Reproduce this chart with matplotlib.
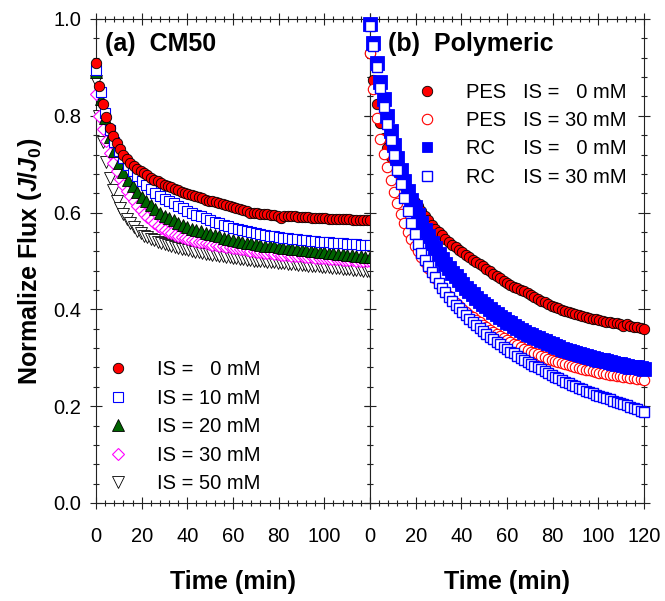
import numpy as np
import matplotlib
matplotlib.use("Agg")
import matplotlib.pyplot as plt
from matplotlib.ticker import MultipleLocator

plt.rcParams["font.family"] = ["Liberation Sans", "DejaVu Sans"]
plt.rcParams["mathtext.fontset"] = "custom"
plt.rcParams["mathtext.rm"] = "Liberation Sans:bold"
plt.rcParams["mathtext.it"] = "Liberation Sans:italic:bold"
plt.rcParams["mathtext.bf"] = "Liberation Sans:bold"

# ---------------- data: normalized flux J/J0 vs time (min) ----------------
# (a) ceramic CM50 membrane, several ionic strengths
time_cm50_0 = np.arange(81) * 1.5
flux_cm50_0 = [0.910, 0.862, 0.825, 0.797, 0.775, 0.758, 0.743, 0.731, 0.720, 0.711,
               0.703, 0.697, 0.691, 0.686, 0.681, 0.677, 0.672, 0.668, 0.665, 0.661,
               0.658, 0.655, 0.652, 0.649, 0.646, 0.643, 0.640, 0.638, 0.636, 0.634,
               0.632, 0.630, 0.627, 0.625, 0.623, 0.621, 0.619, 0.617, 0.615, 0.613,
               0.612, 0.610, 0.608, 0.606, 0.603, 0.600, 0.600, 0.599, 0.598, 0.598,
               0.597, 0.596, 0.595, 0.594, 0.588, 0.593, 0.593, 0.592, 0.592, 0.591,
               0.591, 0.590, 0.590, 0.589, 0.589, 0.588, 0.588, 0.588, 0.587, 0.587,
               0.587, 0.586, 0.586, 0.586, 0.586, 0.585, 0.585, 0.585, 0.585, 0.585,
               0.585]

time_cm50_10 = np.arange(61) * 2.0
flux_cm50_10 = [0.895, 0.850, 0.805, 0.770, 0.745, 0.727, 0.712, 0.698, 0.686, 0.675,
                0.665, 0.656, 0.648, 0.641, 0.635, 0.629, 0.624, 0.619, 0.614, 0.609,
                0.604, 0.600, 0.596, 0.592, 0.588, 0.584, 0.581, 0.578, 0.575, 0.572,
                0.569, 0.566, 0.564, 0.562, 0.560, 0.558, 0.556, 0.554, 0.552, 0.551,
                0.549, 0.548, 0.547, 0.546, 0.545, 0.544, 0.543, 0.542, 0.541, 0.540,
                0.539, 0.539, 0.538, 0.537, 0.537, 0.536, 0.536, 0.535, 0.534, 0.534,
                0.533]

time_cm50_20 = np.arange(61) * 2.0
flux_cm50_20 = [0.890, 0.835, 0.795, 0.757, 0.727, 0.703, 0.684, 0.668, 0.654, 0.642,
                0.633, 0.624, 0.615, 0.607, 0.600, 0.594, 0.589, 0.584, 0.579, 0.575,
                0.571, 0.567, 0.564, 0.561, 0.558, 0.556, 0.553, 0.551, 0.548, 0.546,
                0.544, 0.542, 0.540, 0.538, 0.537, 0.535, 0.534, 0.532, 0.531, 0.530,
                0.528, 0.527, 0.526, 0.525, 0.524, 0.523, 0.522, 0.521, 0.520, 0.519,
                0.518, 0.517, 0.516, 0.515, 0.514, 0.513, 0.512, 0.511, 0.510, 0.509,
                0.508]

time_cm50_30 = np.arange(81) * 1.5
flux_cm50_30 = [0.845, 0.800, 0.773, 0.747, 0.723, 0.703, 0.686, 0.670, 0.657, 0.645,
                0.634, 0.624, 0.614, 0.605, 0.597, 0.590, 0.584, 0.578, 0.573, 0.568,
                0.564, 0.560, 0.557, 0.554, 0.552, 0.550, 0.548, 0.546, 0.544, 0.542,
                0.540, 0.539, 0.537, 0.536, 0.534, 0.533, 0.532, 0.530, 0.529, 0.528,
                0.527, 0.526, 0.525, 0.524, 0.522, 0.521, 0.520, 0.519, 0.518, 0.517,
                0.516, 0.516, 0.515, 0.514, 0.513, 0.513, 0.512, 0.511, 0.511, 0.510,
                0.510, 0.509, 0.508, 0.508, 0.507, 0.507, 0.506, 0.506, 0.505, 0.505,
                0.504, 0.504, 0.503, 0.503, 0.502, 0.502, 0.501, 0.501, 0.500, 0.500,
                0.499]

time_cm50_50 = np.arange(81) * 1.5
flux_cm50_50 = [0.872, 0.800, 0.745, 0.705, 0.672, 0.646, 0.625, 0.609, 0.597, 0.587,
                0.578, 0.570, 0.563, 0.557, 0.552, 0.549, 0.546, 0.543, 0.540, 0.537,
                0.535, 0.533, 0.531, 0.529, 0.527, 0.525, 0.524, 0.522, 0.521, 0.519,
                0.518, 0.516, 0.515, 0.514, 0.513, 0.512, 0.511, 0.510, 0.509, 0.508,
                0.507, 0.506, 0.505, 0.504, 0.503, 0.502, 0.501, 0.501, 0.500, 0.499,
                0.498, 0.498, 0.497, 0.496, 0.495, 0.495, 0.494, 0.494, 0.493, 0.492,
                0.491, 0.491, 0.490, 0.490, 0.489, 0.489, 0.488, 0.488, 0.487, 0.486,
                0.485, 0.485, 0.484, 0.484, 0.483, 0.482, 0.481, 0.481, 0.480, 0.479,
                0.478]

# (b) polymeric membranes (PES and RC)
time_pes_0 = np.arange(81) * 1.5
flux_pes_0 = [0.930, 0.875, 0.825, 0.785, 0.755, 0.733, 0.715, 0.698, 0.683, 0.668,
              0.655, 0.643, 0.632, 0.622, 0.613, 0.604, 0.594, 0.584, 0.575, 0.567,
              0.559, 0.553, 0.546, 0.540, 0.534, 0.528, 0.523, 0.518, 0.513, 0.508,
              0.503, 0.498, 0.494, 0.489, 0.484, 0.479, 0.474, 0.469, 0.464, 0.459,
              0.454, 0.451, 0.447, 0.444, 0.441, 0.437, 0.434, 0.430, 0.426, 0.422,
              0.418, 0.415, 0.411, 0.408, 0.405, 0.402, 0.399, 0.396, 0.394, 0.392,
              0.390, 0.388, 0.386, 0.384, 0.383, 0.381, 0.380, 0.378, 0.377, 0.375,
              0.374, 0.372, 0.371, 0.370, 0.366, 0.369, 0.366, 0.364, 0.363, 0.362,
              0.360]

time_pes_30 = np.arange(81) * 1.5
flux_pes_30 = [0.930, 0.855, 0.795, 0.752, 0.722, 0.695, 0.668, 0.643, 0.620, 0.598,
               0.578, 0.560, 0.545, 0.532, 0.520, 0.508, 0.497, 0.486, 0.475, 0.465,
               0.455, 0.445, 0.436, 0.428, 0.420, 0.413, 0.406, 0.400, 0.394, 0.389,
               0.384, 0.378, 0.373, 0.368, 0.363, 0.358, 0.354, 0.349, 0.345, 0.341,
               0.337, 0.333, 0.329, 0.326, 0.322, 0.319, 0.316, 0.313, 0.310, 0.307,
               0.304, 0.301, 0.298, 0.296, 0.293, 0.291, 0.289, 0.287, 0.285, 0.283,
               0.281, 0.279, 0.277, 0.275, 0.274, 0.272, 0.271, 0.269, 0.268, 0.266,
               0.265, 0.264, 0.263, 0.262, 0.261, 0.260, 0.259, 0.258, 0.257, 0.256,
               0.254]

time_rc_0 = np.arange(81) * 1.5
flux_rc_0 = [0.990, 0.950, 0.910, 0.870, 0.835, 0.800, 0.768, 0.740, 0.713, 0.688,
             0.665, 0.645, 0.627, 0.611, 0.595, 0.579, 0.565, 0.551, 0.538, 0.526,
             0.515, 0.504, 0.494, 0.485, 0.476, 0.468, 0.460, 0.452, 0.445, 0.438,
             0.431, 0.424, 0.418, 0.412, 0.406, 0.400, 0.395, 0.390, 0.385, 0.380,
             0.375, 0.371, 0.366, 0.362, 0.358, 0.354, 0.350, 0.347, 0.343, 0.340,
             0.337, 0.334, 0.331, 0.328, 0.325, 0.322, 0.319, 0.317, 0.314, 0.312,
             0.310, 0.308, 0.306, 0.304, 0.302, 0.300, 0.298, 0.296, 0.295, 0.293,
             0.291, 0.290, 0.288, 0.287, 0.285, 0.284, 0.282, 0.281, 0.280, 0.278,
             0.277]

time_rc_30 = np.arange(81) * 1.5
flux_rc_30 = [0.985, 0.945, 0.900, 0.858, 0.818, 0.783, 0.750, 0.718, 0.688, 0.660,
              0.630, 0.603, 0.578, 0.556, 0.535, 0.516, 0.502, 0.489, 0.477, 0.466,
              0.455, 0.445, 0.435, 0.426, 0.418, 0.410, 0.402, 0.395, 0.388, 0.381,
              0.373, 0.367, 0.361, 0.355, 0.349, 0.344, 0.338, 0.333, 0.328, 0.323,
              0.318, 0.313, 0.309, 0.304, 0.300, 0.296, 0.292, 0.288, 0.284, 0.280,
              0.276, 0.272, 0.268, 0.265, 0.261, 0.258, 0.254, 0.250, 0.247, 0.244,
              0.241, 0.238, 0.235, 0.232, 0.229, 0.227, 0.224, 0.221, 0.219, 0.216,
              0.214, 0.211, 0.209, 0.206, 0.204, 0.202, 0.199, 0.197, 0.194, 0.190,
              0.187]

labels_cm50 = ["IS =   0 mM", "IS = 10 mM", "IS = 20 mM", "IS = 30 mM", "IS = 50 mM"]
labels_poly = ["PES   IS =   0 mM", "PES   IS = 30 mM",
               "RC     IS =   0 mM", "RC     IS = 30 mM"]
xticks = [0, 20, 40, 60, 80, 100, 120]

# ---------------- figure ----------------
W, H = 665, 601
fig = plt.figure(figsize=(W / 100, H / 100), dpi=100)
x0, y0, aw, ah = 96, 98, 274, 484
axL = fig.add_axes([x0 / W, y0 / H, aw / W, ah / H])
axR = fig.add_axes([(x0 + aw) / W, y0 / H, aw / W, ah / H])

RED, BLUE, GREEN, MAG = "#ff0000", "#0000ff", "#006400", "#ff00ff"

# CM50 series (drawn so the 0 mM circles end up on top)
hL = {}
hL[4] = axL.plot(time_cm50_50, flux_cm50_50, "v", ms=8, mfc="white", mec="black",
                 mew=0.6, ls="none", clip_on=False, zorder=3, label=labels_cm50[4])[0]
hL[3] = axL.plot(time_cm50_30, flux_cm50_30, "D", ms=6.5, mfc="white", mec=MAG,
                 mew=0.8, ls="none", clip_on=False, zorder=4, label=labels_cm50[3])[0]
hL[2] = axL.plot(time_cm50_20, flux_cm50_20, "^", ms=8, mfc=GREEN, mec="black",
                 mew=0.6, ls="none", clip_on=False, zorder=5, label=labels_cm50[2])[0]
hL[1] = axL.plot(time_cm50_10, flux_cm50_10, "s", ms=7, mfc="white", mec=BLUE,
                 mew=0.8, ls="none", clip_on=False, zorder=6, label=labels_cm50[1])[0]
hL[0] = axL.plot(time_cm50_0, flux_cm50_0, "o", ms=7.5, mfc=RED, mec="black",
                 mew=0.6, ls="none", clip_on=False, zorder=7, label=labels_cm50[0])[0]

# Polymeric series
hR = []
hR.append(axR.plot(time_pes_0, flux_pes_0, "o", ms=7.5, mfc=RED, mec="black",
                   mew=0.6, ls="none", clip_on=False, zorder=3, label=labels_poly[0])[0])
hR.append(axR.plot(time_pes_30, flux_pes_30, "o", ms=7.5, mfc="white", mec=RED,
                   mew=0.8, ls="none", clip_on=False, zorder=4, label=labels_poly[1])[0])
hR.append(axR.plot(time_rc_0, flux_rc_0, "s", ms=10.5, mfc=BLUE, mec=BLUE,
                   mew=0.6, ls="none", clip_on=False, zorder=5, label=labels_poly[2])[0])
hR.append(axR.plot(time_rc_30, flux_rc_30, "s", ms=7.5, mfc="white", mec=BLUE,
                   mew=1.0, ls="none", clip_on=False, zorder=6, label=labels_poly[3])[0])

for ax in (axL, axR):
    ax.set_xlim(0, 120)
    ax.set_ylim(0, 1.0)
    ax.xaxis.set_major_locator(MultipleLocator(20))
    ax.xaxis.set_minor_locator(MultipleLocator(4))
    ax.yaxis.set_major_locator(MultipleLocator(0.2))
    ax.yaxis.set_minor_locator(MultipleLocator(0.04))
    ax.tick_params(which="both", direction="inout", top=True, right=True,
                   width=0.8, colors="#222222", labelcolor="black")
    ax.tick_params(which="major", length=8, labelsize=14.5)
    ax.tick_params(which="minor", length=5)
    ax.tick_params(axis="x", pad=13.5)
    ax.tick_params(axis="y", pad=6.5)
    for s in ax.spines.values():
        s.set_linewidth(0.8)
        s.set_color("#222222")

axL.set_xticks(xticks)
axL.set_xticklabels([str(v) for v in xticks[:-1]] + [""])
axL.set_yticks([0, 0.2, 0.4, 0.6, 0.8, 1.0])
axL.set_yticklabels(["0.0", "0.2", "0.4", "0.6", "0.8", "1.0"])
axR.set_xticks(xticks)
axR.tick_params(labelleft=False)

legL = axL.legend([hL[i] for i in range(5)], labels_cm50, loc="lower left",
                  bbox_to_anchor=(0.044, 0.02), frameon=False, fontsize=14.5,
                  handlelength=1.0, handletextpad=1.45, labelspacing=0.47,
                  borderpad=0, borderaxespad=0, numpoints=1)
legR = axR.legend(hR, labels_poly, loc="upper left",
                  bbox_to_anchor=(0.17, 0.868), frameon=False, fontsize=14.5,
                  handlelength=1.0, handletextpad=1.45, labelspacing=0.46,
                  borderpad=0, borderaxespad=0, numpoints=1)
legR.legend_handles[2].set_markersize(7.5)

axL.text(0.033, 0.949, "(a)  CM50", transform=axL.transAxes, fontsize=18,
         fontweight="bold", va="center", ha="left")
axR.text(0.066, 0.949, "(b)  Polymeric", transform=axR.transAxes, fontsize=18,
         fontweight="bold", va="center", ha="left")

fig.text(30 / W, 1 - 261 / H, r"Normalize Flux ($\mathit{J/J}_{\mathit{0}}$)", rotation=90,
         ha="center", va="center", fontsize=18, fontweight="bold")
fig.text(233 / W, 1 - 582 / H, "Time (min)", ha="center", va="center",
         fontsize=18, fontweight="bold")
fig.text(507 / W, 1 - 582 / H, "Time (min)", ha="center", va="center",
         fontsize=18, fontweight="bold")

fig.savefig("out.png", dpi=100)
